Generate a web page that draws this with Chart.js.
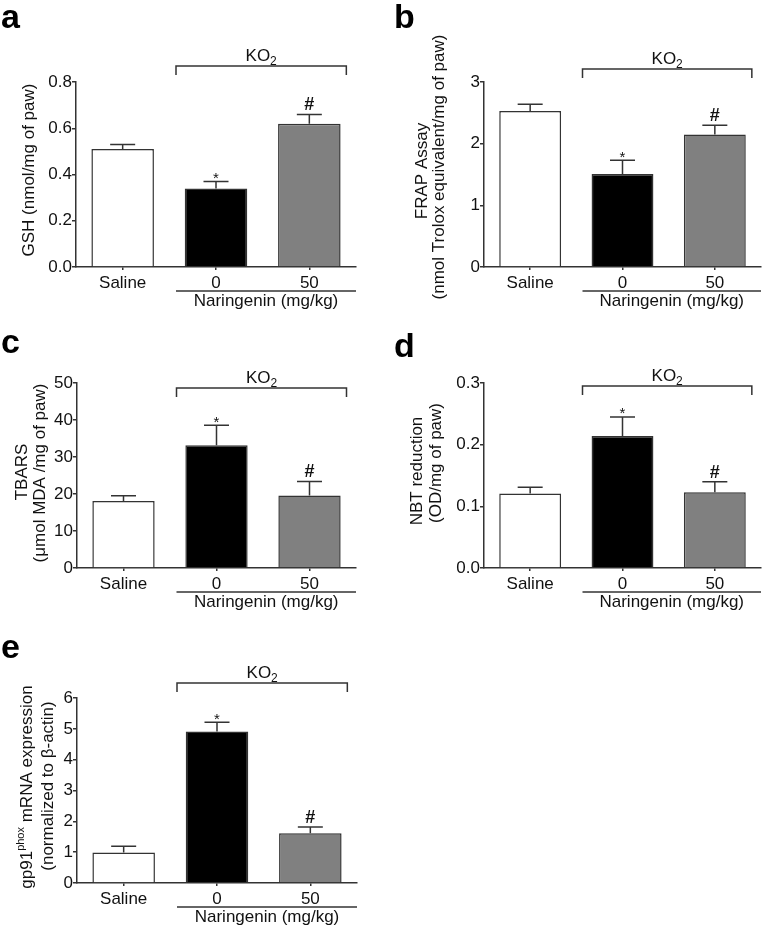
<!DOCTYPE html>
<html>
<head>
<meta charset="utf-8">
<script src="https://cdn.jsdelivr.net/npm/chart.js@4.4.1/dist/chart.umd.min.js"></script>
<style>
  body { margin: 0; background: #fff; }
  #wrap { position: relative; width: 764px; height: 930px; }
  canvas { position: absolute; }
</style>
</head>
<body>
<div id="wrap">
  <canvas id="gsh" width="380" height="310" style="left:0;top:0"></canvas>
  <canvas id="frap" width="384" height="310" style="left:380px;top:0"></canvas>
  <canvas id="tbars" width="380" height="310" style="left:0;top:310px"></canvas>
  <canvas id="nbt" width="384" height="310" style="left:380px;top:310px"></canvas>
  <canvas id="gp91" width="380" height="310" style="left:0;top:620px"></canvas>
</div>
<script>
Chart.defaults.font.family = '"Liberation Sans", Arial, sans-serif';
Chart.defaults.font.size = 17;
Chart.defaults.color = '#111';

const ink = '#333';
const groups = ['Saline', '0', '50'];
const signif = ['', '*', '#'];
const barColors = ['#ffffff', '#000000', '#808080'];

// a - GSH
const gshMean = [0.51, 0.34, 0.62];
const gshSem = [0.02, 0.03, 0.04];
const gshTicks = [0, 0.2, 0.4, 0.6, 0.8];

// b - FRAP
const frapMean = [2.53, 1.51, 2.15];
const frapSem = [0.11, 0.22, 0.15];
const frapTicks = [0, 1, 2, 3];

// c - TBARS
const tbarsMean = [18.1, 33.2, 19.6];
const tbarsSem = [1.4, 5.4, 3.8];
const tbarsTicks = [0, 10, 20, 30, 40, 50];

// d - NBT reduction
const nbtMean = [0.121, 0.214, 0.123];
const nbtSem = [0.010, 0.031, 0.017];
const nbtTicks = [0, 0.1, 0.2, 0.3];

// e - gp91phox mRNA
const gpMean = [0.99, 4.91, 1.61];
const gpSem = [0.20, 0.30, 0.21];
const gpTicks = [0, 1, 2, 3, 4, 5, 6];

// draws error bars, significance marks, KO2 bracket, naringenin line, titles
function decor(p) {
  return {
    id: 'decor',
    afterDatasetsDraw(chart) {
      const { ctx, chartArea: area, scales: { x, y } } = chart;
      ctx.save();
      ctx.strokeStyle = ink;
      ctx.fillStyle = '#111';
      ctx.lineWidth = 1.5;

      p.mean.forEach((m, i) => {
        const cx = x.getPixelForValue(i);
        const y0 = y.getPixelForValue(m);
        const y1 = y.getPixelForValue(m + p.sem[i]);
        ctx.beginPath();
        ctx.moveTo(cx, y0);
        ctx.lineTo(cx, y1);
        ctx.moveTo(cx - 12.5, y1);
        ctx.lineTo(cx + 12.5, y1);
        ctx.stroke();
        if (signif[i]) {
          const star = signif[i] === '*';
          ctx.font = star ? '15px "Liberation Sans"' : 'bold 18px "Liberation Sans"';
          ctx.textAlign = 'center';
          ctx.textBaseline = 'alphabetic';
          ctx.fillText(signif[i], cx, star ? y1 + 1.5 : y1 - 4);
        }
      });

      // KO2 bracket
      const xl = x.getPixelForValue(1) - 40;
      const xr = x.getPixelForValue(2) + 37;
      const yb = area.top + p.bracketDy;
      ctx.beginPath();
      ctx.moveTo(xl, yb + 9);
      ctx.lineTo(xl, yb);
      ctx.lineTo(xr, yb);
      ctx.lineTo(xr, yb + 9);
      ctx.stroke();
      ctx.textAlign = 'left';
      ctx.textBaseline = 'alphabetic';
      ctx.font = '17px "Liberation Sans"';
      const wKO = ctx.measureText('KO').width;
      ctx.font = '12px "Liberation Sans"';
      const w2 = ctx.measureText('2').width;
      const kx = (xl + xr) / 2 - (wKO + w2) / 2;
      ctx.font = '17px "Liberation Sans"';
      ctx.fillText('KO', kx, yb - 5);
      ctx.font = '12px "Liberation Sans"';
      ctx.fillText('2', kx + wKO, yb - 1);

      // Naringenin line and label
      const nl = x.getPixelForValue(1) - 40;
      const ny = area.bottom + 24;
      ctx.beginPath();
      ctx.moveTo(nl, ny);
      ctx.lineTo(area.right, ny);
      ctx.stroke();
      ctx.font = '17px "Liberation Sans"';
      ctx.textAlign = 'center';
      ctx.fillText('Naringenin (mg/kg)', (nl + area.right) / 2, area.bottom + 39);

      // y-axis title
      p.title.forEach((line, i) => {
        ctx.save();
        ctx.translate(p.titleX[i], p.titleY[i]);
        ctx.rotate(-Math.PI / 2);
        ctx.textBaseline = 'middle';
        const parts = Array.isArray(line) ? line : [[line, 17, 0]];
        let total = 0;
        parts.forEach(([t, s]) => { ctx.font = s + 'px "Liberation Sans"'; total += ctx.measureText(t).width; });
        let tx = -total / 2;
        ctx.textAlign = 'left';
        parts.forEach(([t, s, dy]) => {
          ctx.font = s + 'px "Liberation Sans"';
          ctx.fillText(t, tx, dy);
          tx += ctx.measureText(t).width;
        });
        ctx.restore();
      });

      // panel letter
      ctx.font = 'bold 34px "Liberation Sans"';
      ctx.textAlign = 'left';
      ctx.textBaseline = 'alphabetic';
      ctx.fillStyle = '#000';
      ctx.fillText(p.letter, p.letterX, p.letterY);
      ctx.restore();
    }
  };
}

function makePanel(id, p) {
  return new Chart(document.getElementById(id), {
    type: 'bar',
    data: {
      labels: groups,
      datasets: [{
        data: p.mean,
        backgroundColor: barColors,
        borderColor: ink,
        borderWidth: 1.5,
        barPercentage: 0.67,
        categoryPercentage: 1
      }]
    },
    options: {
      responsive: false,
      animation: false,
      layout: { padding: p.padding },
      plugins: { legend: { display: false }, tooltip: { enabled: false } },
      scales: {
        x: {
          offset: true,
          grid: { offset: false, drawOnChartArea: false, tickLength: 3, color: ink, lineWidth: 1.5 },
          border: { color: ink, width: 1.5 },
          ticks: { padding: 3, color: '#111' },
          afterFit: s => { s.height = 30; }
        },
        y: {
          min: p.ticks[0],
          max: p.ticks[p.ticks.length - 1],
          grid: { drawOnChartArea: false, tickLength: 4, color: ink, lineWidth: 1.5 },
          border: { color: ink, width: 1.5 },
          ticks: { padding: 0, color: '#111', callback: v => v.toFixed(p.dec) },
          afterBuildTicks: s => { s.ticks = p.ticks.map(v => ({ value: v })); },
          afterFit: s => { s.width = p.yWidth; }
        }
      }
    },
    plugins: [decor(p)]
  });
}

makePanel('gsh', {
  mean: gshMean, sem: gshSem, ticks: gshTicks, dec: 1,
  padding: { left: 0, top: 82, right: 24, bottom: 13 }, yWidth: 76,
  bracketDy: -16,
  title: ['GSH (nmol/mg of paw)'], titleX: [29], titleY: [170],
  letter: 'a', letterX: 1, letterY: 28
});

makePanel('frap', {
  mean: frapMean, sem: frapSem, ticks: frapTicks, dec: 0,
  padding: { left: 0, top: 82, right: 3, bottom: 13 }, yWidth: 104,
  bracketDy: -13,
  title: ['FRAP Assay', '(nmol Trolox equivalent/mg of paw)'], titleX: [42, 59], titleY: [171, 167],
  letter: 'b', letterX: 14, letterY: 28
});

makePanel('tbars', {
  mean: tbarsMean, sem: tbarsSem, ticks: tbarsTicks, dec: 0,
  padding: { left: 0, top: 73, right: 24, bottom: 22 }, yWidth: 77,
  bracketDy: 5,
  title: ['TBARS', '(μmol MDA /mg of paw)'], titleX: [22, 40], titleY: [162, 163],
  letter: 'c', letterX: 1, letterY: 43
});

makePanel('nbt', {
  mean: nbtMean, sem: nbtSem, ticks: nbtTicks, dec: 1,
  padding: { left: 0, top: 73, right: 3, bottom: 22 }, yWidth: 104,
  bracketDy: 3,
  title: ['NBT reduction', '(OD/mg of paw)'], titleX: [37, 56], titleY: [161, 153],
  letter: 'd', letterX: 14, letterY: 47
});

makePanel('gp91', {
  mean: gpMean, sem: gpSem, ticks: gpTicks, dec: 0,
  padding: { left: 0, top: 78, right: 23, bottom: 17 }, yWidth: 77,
  bracketDy: -15,
  title: [[['gp91', 17, 0], ['phox', 11, -6], [' mRNA expression', 17, 0]], '(normalized to β-actin)'],
  titleX: [27, 48], titleY: [167, 166],
  letter: 'e', letterX: 1, letterY: 38
});
</script>
</body>
</html>
